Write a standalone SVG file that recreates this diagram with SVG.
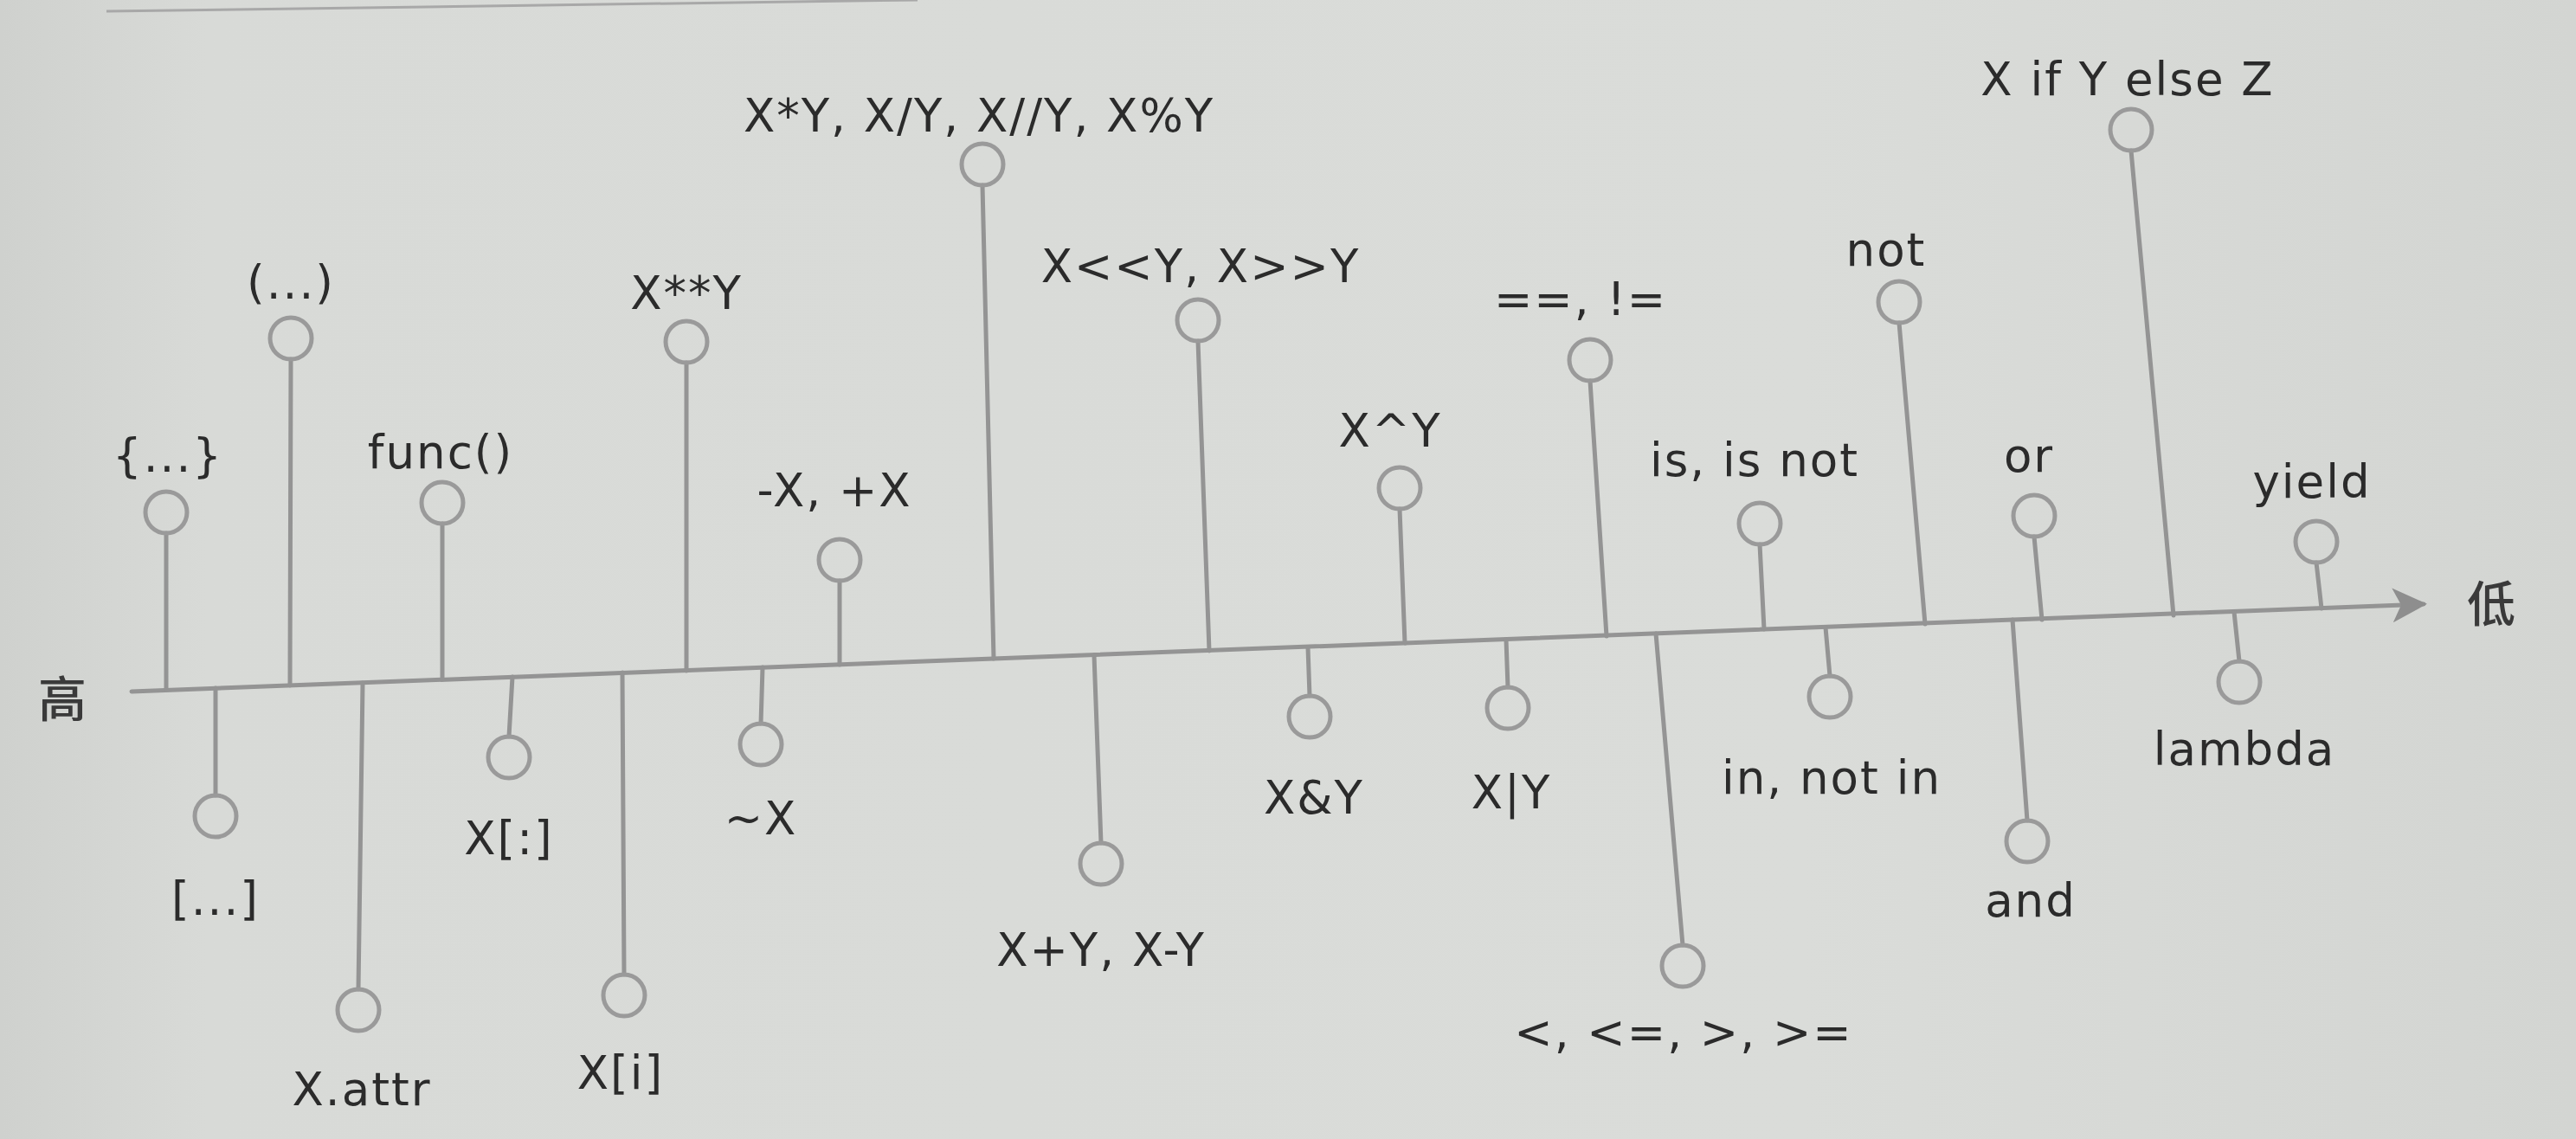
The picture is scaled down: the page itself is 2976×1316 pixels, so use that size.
<svg xmlns="http://www.w3.org/2000/svg" width="2976" height="1316" viewBox="0 0 2976 1316">
<defs>
<linearGradient id="paper" x1="0" y1="0" x2="1" y2="0">
<stop offset="0" stop-color="#cfd1ce"/>
<stop offset="0.08" stop-color="#d8dad7"/>
<stop offset="0.7" stop-color="#dadcd9"/>
<stop offset="1" stop-color="#d3d5d2"/>
</linearGradient>
<marker id="arrow" viewBox="0 0 10 10" refX="9" refY="5" markerWidth="8" markerHeight="9" markerUnits="strokeWidth" orient="auto">
<path d="M0,0 L10,5 L0,10 L2.5,5 Z" fill="#8e8e8e"/>
</marker>
</defs>
<style>
.ln{stroke:#949494;stroke-width:5;fill:none;stroke-linecap:round}
.nd circle{fill:none;stroke:#9a9a9a;stroke-width:5}
.nd text{font-family:"DejaVu Sans","Verdana",sans-serif;font-size:53px;letter-spacing:2px;fill:#2b2b2b;text-anchor:middle}
.cjk{font-family:"Noto Sans CJK SC",sans-serif;font-size:56px;font-weight:500;fill:#3a3a3a;text-anchor:middle}
</style>
<rect x="0" y="0" width="2976" height="1316" fill="url(#paper)"/>
<line x1="123" y1="13" x2="1060" y2="0" stroke="#a8a8a8" stroke-width="3"/>

<g id="connectors">
<line id="axis" class="ln" x1="152" y1="799" x2="2800" y2="698" marker-end="url(#arrow)"/>
<!-- upward stems -->
<line class="ln" x1="192" y1="616" x2="192" y2="797"/>
<line class="ln" x1="336" y1="415" x2="335" y2="792"/>
<line class="ln" x1="511" y1="605" x2="511" y2="785"/>
<line class="ln" x1="793" y1="419" x2="793" y2="775"/>
<line class="ln" x1="970" y1="671" x2="970" y2="768"/>
<line class="ln" x1="1135" y1="214" x2="1148" y2="761"/>
<line class="ln" x1="1384" y1="394" x2="1397" y2="752"/>
<line class="ln" x1="1617" y1="588" x2="1623" y2="743"/>
<line class="ln" x1="1837" y1="440" x2="1856" y2="735"/>
<line class="ln" x1="2033" y1="629" x2="2038" y2="727"/>
<line class="ln" x1="2194" y1="373" x2="2224" y2="721"/>
<line class="ln" x1="2350" y1="620" x2="2359" y2="716"/>
<line class="ln" x1="2462" y1="174" x2="2511" y2="711"/>
<line class="ln" x1="2676" y1="650" x2="2682" y2="703"/>
<!-- downward stems -->
<line class="ln" x1="249" y1="795" x2="249" y2="919"/>
<line class="ln" x1="419" y1="789" x2="414" y2="1143"/>
<line class="ln" x1="592" y1="782" x2="588" y2="851"/>
<line class="ln" x1="719" y1="777" x2="721" y2="1126"/>
<line class="ln" x1="881" y1="771" x2="879" y2="836"/>
<line class="ln" x1="1264" y1="757" x2="1272" y2="974"/>
<line class="ln" x1="1511" y1="748" x2="1513" y2="804"/>
<line class="ln" x1="1740" y1="739" x2="1742" y2="794"/>
<line class="ln" x1="1913" y1="732" x2="1944" y2="1092"/>
<line class="ln" x1="2109" y1="725" x2="2114" y2="781"/>
<line class="ln" x1="2325" y1="716" x2="2342" y2="948"/>
<line class="ln" x1="2581" y1="707" x2="2587" y2="764"/>
</g>

<text class="cjk" x="72" y="828">高</text>
<text class="cjk" x="2878" y="718">低</text>

<g id="n-set" class="nd"><circle cx="192" cy="592" r="24"/><text x="194" y="545">{...}</text></g>
<g id="n-tuple" class="nd"><circle cx="336" cy="391" r="24"/><text x="336" y="345">(...)</text></g>
<g id="n-call" class="nd"><circle cx="511" cy="581" r="24"/><text x="509" y="541">func()</text></g>
<g id="n-pow" class="nd"><circle cx="793" cy="395" r="24"/><text x="793" y="357">X**Y</text></g>
<g id="n-unary" class="nd"><circle cx="970" cy="647" r="24"/><text x="964" y="585">-X, +X</text></g>
<g id="n-mul" class="nd"><circle cx="1135" cy="190" r="24"/><text x="1131" y="152">X*Y, X/Y, X//Y, X%Y</text></g>
<g id="n-shift" class="nd"><circle cx="1384" cy="370" r="24"/><text x="1387" y="326">X&lt;&lt;Y, X&gt;&gt;Y</text></g>
<g id="n-xor" class="nd"><circle cx="1617" cy="564" r="24"/><text x="1606" y="516">X^Y</text></g>
<g id="n-eq" class="nd"><circle cx="1837" cy="416" r="24"/><text x="1826" y="364">==, !=</text></g>
<g id="n-is" class="nd"><circle cx="2033" cy="605" r="24"/><text x="2027" y="550">is, is not</text></g>
<g id="n-not" class="nd"><circle cx="2194" cy="349" r="24"/><text x="2179" y="307">not</text></g>
<g id="n-or" class="nd"><circle cx="2350" cy="596" r="24"/><text x="2344" y="545">or</text></g>
<g id="n-ifelse" class="nd"><circle cx="2462" cy="150" r="24"/><text x="2458" y="110">X if Y else Z</text></g>
<g id="n-yield" class="nd"><circle cx="2676" cy="626" r="24"/><text x="2671" y="575">yield</text></g>

<g id="n-list" class="nd"><circle cx="249" cy="943" r="24"/><text x="249" y="1057">[...]</text></g>
<g id="n-attr" class="nd"><circle cx="414" cy="1167" r="24"/><text x="418" y="1277">X.attr</text></g>
<g id="n-slice" class="nd"><circle cx="588" cy="875" r="24"/><text x="588" y="987">X[:]</text></g>
<g id="n-index" class="nd"><circle cx="721" cy="1150" r="24"/><text x="717" y="1258">X[i]</text></g>
<g id="n-invert" class="nd"><circle cx="879" cy="860" r="24"/><text x="879" y="964">~X</text></g>
<g id="n-add" class="nd"><circle cx="1272" cy="998" r="24"/><text x="1272" y="1116">X+Y, X-Y</text></g>
<g id="n-and-bit" class="nd"><circle cx="1513" cy="828" r="24"/><text x="1518" y="940">X&amp;Y</text></g>
<g id="n-or-bit" class="nd"><circle cx="1742" cy="818" r="24"/><text x="1746" y="934">X|Y</text></g>
<g id="n-cmp" class="nd"><circle cx="1944" cy="1116" r="24"/><text x="1945" y="1211">&lt;, &lt;=, &gt;, &gt;=</text></g>
<g id="n-in" class="nd"><circle cx="2114" cy="805" r="24"/><text x="2116" y="917">in, not in</text></g>
<g id="n-and" class="nd"><circle cx="2342" cy="972" r="24"/><text x="2346" y="1059">and</text></g>
<g id="n-lambda" class="nd"><circle cx="2587" cy="788" r="24"/><text x="2593" y="884">lambda</text></g>
</svg>
